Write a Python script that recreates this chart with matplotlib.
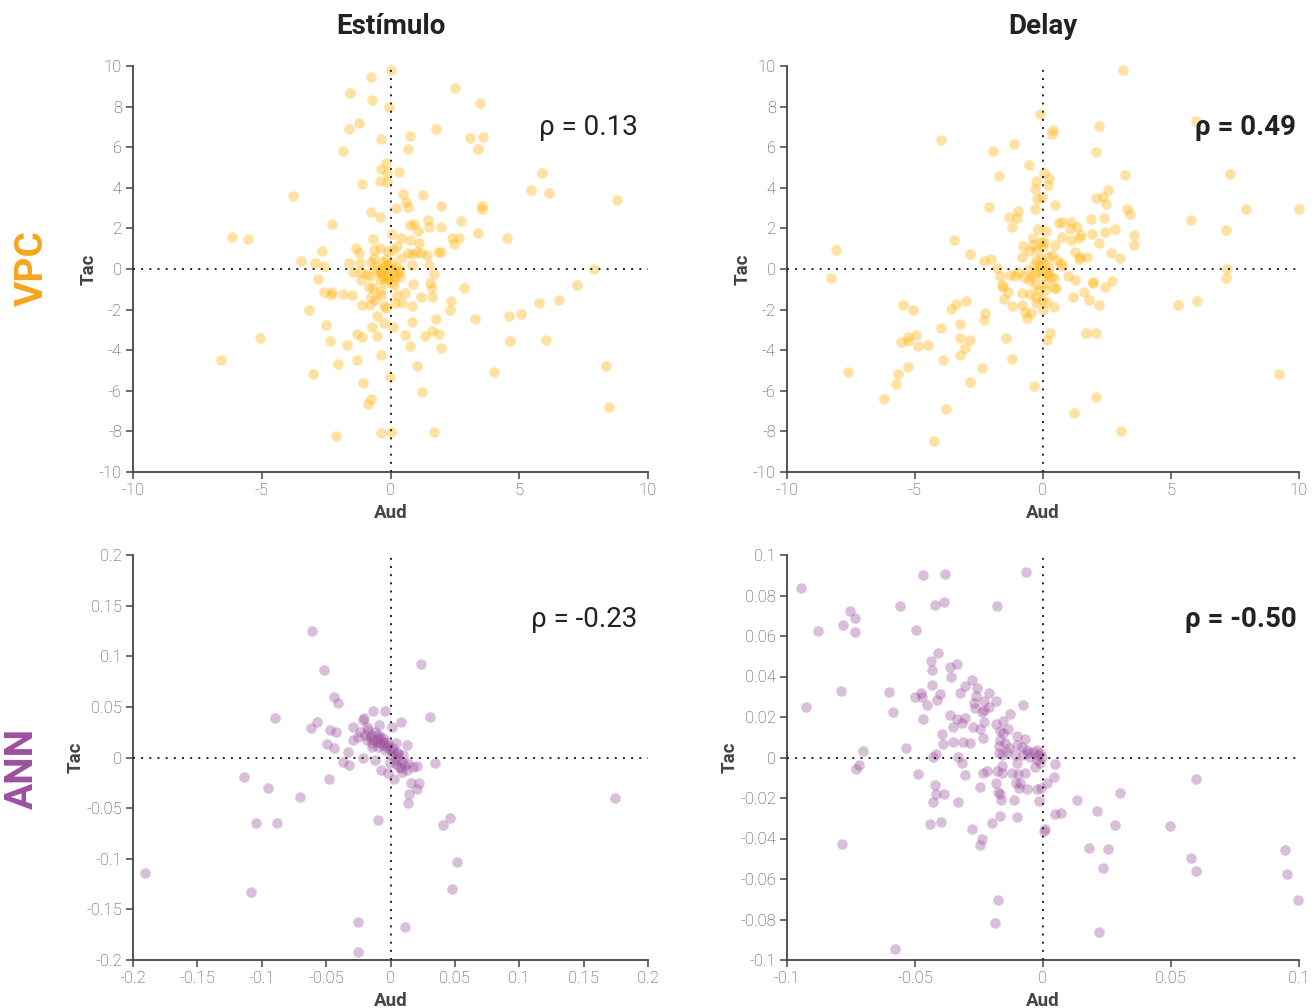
import matplotlib
matplotlib.use("Agg")
import matplotlib.pyplot as plt
from matplotlib.ticker import FuncFormatter
import numpy as np

plt.rcParams["font.family"] = ["Roboto", "DejaVu Sans"]
plt.rcParams["axes.unicode_minus"] = False

# (Aud, Tac) pairs per unit for each condition
vpc_stimulus = [
    (0.00, 9.82), (-0.75, 9.44), (2.52, 8.93), (-1.57, 8.69), (-0.72, 8.34), (3.48, 8.18),
    (-0.07, 7.98), (-1.23, 7.20), (-1.61, 6.92), (1.77, 6.89), (0.77, 6.56), (3.10, 6.44),
    (3.59, 6.51), (-0.38, 6.38), (0.69, 5.89), (3.41, 5.93), (-1.84, 5.80), (-0.16, 5.20),
    (-0.38, 4.95), (5.90, 4.75), (5.44, 3.90), (6.16, 3.75), (-3.77, 3.59), (8.79, 3.38),
    (-6.15, 1.56), (-5.52, 1.48), (7.90, -0.02), (7.23, -0.77), (4.52, 1.54),
    (-0.12, 4.71), (0.34, 4.79), (-0.41, 4.33), (-0.13, 4.30), (-1.11, 4.20), (0.49, 3.68),
    (1.26, 3.63), (0.60, 3.32), (0.69, 3.07), (0.21, 3.02), (1.98, 3.12), (3.55, 3.12),
    (3.57, 2.97), (-0.74, 2.82), (-2.28, 2.23), (-0.40, 2.56), (0.76, 2.18), (0.91, 2.23),
    (1.45, 2.40), (2.73, 2.38), (1.05, 1.87), (1.50, 2.05), (1.97, 2.09), (3.38, 1.79),
    (0.05, 1.71), (-0.67, 1.48), (0.40, 1.51), (0.74, 1.41), (1.11, 1.30), (2.37, 1.51),
    (2.67, 1.54), (2.47, 1.23), (-1.35, 1.03), (-1.24, 0.80), (-2.65, 0.87), (-0.63, 0.94),
    (-0.40, 1.05), (-0.09, 0.87), (0.10, 0.94), (0.27, 1.13), (0.82, 0.74), (0.69, 0.77),
    (1.01, 0.84), (1.20, 0.77), (1.40, 0.67), (1.83, 0.82), (1.95, 0.82), (-0.65, 0.53),
    (-0.74, 0.36), (-0.28, 0.36), (-0.18, 0.48), (0.40, 0.53), (0.84, 0.20), (1.48, 0.20),
    (-2.94, 0.28), (-2.59, 0.13), (-3.46, 0.41), (-1.62, 0.30), (-1.20, 0.30),
    (-0.28, 0.03), (-0.05, -0.02), (0.10, -0.13), (0.36, -0.05), (-0.09, -0.34), (-0.28, -0.41),
    (0.17, -0.38), (0.30, -0.21), (-0.54, -0.05), (-0.41, -0.21), (-0.80, -0.34), (-0.22, -0.71),
    (0.04, -0.62), (0.36, -0.41), (-0.41, -0.54), (-0.61, 0.16), (-0.15, 0.20), (0.05, 0.30),
    (-0.35, -0.10), (0.20, 0.10), (-0.10, -0.50), (0.15, -0.80),
    (-1.45, -0.13), (-1.13, -0.16), (-0.93, -0.26), (-2.82, -0.51), (-1.15, -0.54), (1.68, -0.26),
    (0.88, -0.76), (1.53, -0.71), (1.63, -0.94), (2.86, -0.95), (-2.59, -1.13), (-2.28, -1.12),
    (-2.30, -1.28), (-1.84, -1.23), (-1.49, -1.28), (-0.84, -0.90), (-0.67, -0.95), (-0.41, -1.07),
    (-0.76, -1.36), (-0.38, -1.28), (0.27, -1.28), (0.56, -1.17), (1.20, -1.36), (1.61, -1.36),
    (-1.11, -1.77), (-0.80, -1.77), (-0.61, -1.53), (-0.25, -1.82), (-0.18, -1.90), (0.17, -1.69),
    (0.45, -1.66), (0.82, -1.81), (2.34, -1.58), (2.30, -2.02), (-3.18, -2.04), (-0.54, -2.30),
    (-0.72, -2.84), (-0.25, -2.68), (0.10, -2.87), (0.57, -3.25), (0.82, -2.63), (1.61, -3.04),
    (1.89, -3.20), (1.77, -2.45), (1.33, -3.28), (3.28, -2.48), (-2.51, -2.76), (-2.36, -3.53),
    (-1.67, -3.74), (-1.29, -3.20), (-1.09, -3.37), (-0.52, -3.30), (0.75, -3.78), (1.98, -3.91),
    (-5.07, -3.39), (-6.60, -4.48), (5.78, -1.69), (6.55, -1.51), (5.05, -2.20), (4.59, -2.31),
    (4.66, -3.57), (6.03, -3.52), (-1.32, -4.48), (-0.36, -4.25), (-2.02, -4.67), (-3.01, -5.18),
    (1.04, -4.77), (4.01, -5.05), (8.37, -4.77), (-0.02, -5.30), (-1.07, -5.64), (1.22, -6.05),
    (-0.75, -6.39), (-0.86, -6.67), (8.49, -6.79), (-2.13, -8.23), (-0.36, -8.08), (0.00, -8.05),
    (1.68, -8.02),
]

vpc_delay = [
    (3.12, 9.80), (-0.13, 7.66), (5.96, 7.30), (2.18, 7.05), (0.39, 6.84), (0.34, 6.64),
    (-3.99, 6.36), (-1.14, 6.16), (-1.96, 5.82), (2.06, 5.75), (-0.55, 5.13), (7.31, 4.66),
    (7.92, 2.97), (10.00, 2.97), (5.80, 2.41), (7.13, 1.93), (-8.07, 0.92), (-8.30, -0.44),
    (7.18, -0.02), (7.13, -0.43),
    (-1.71, 4.56), (0.04, 4.71), (0.25, 4.47), (0.18, 4.15), (-0.26, 4.34), (-0.33, 3.92),
    (-0.22, 3.45), (-0.05, 3.55), (3.20, 4.63), (2.08, 3.51), (2.36, 3.53), (2.55, 3.88),
    (2.45, 3.19), (-2.11, 3.04), (-0.96, 2.84), (-1.32, 2.55), (-1.00, 2.50), (-1.20, 2.05),
    (-0.30, 2.94), (0.46, 3.14), (3.29, 2.96), (3.39, 2.71), (3.54, 1.66), (3.54, 1.18),
    (1.88, 2.46), (2.37, 2.53), (0.63, 2.28), (0.73, 2.30), (1.11, 2.33), (1.05, 1.99),
    (1.33, 2.09), (1.50, 1.66), (1.41, 1.51), (1.11, 1.43), (0.76, 1.56), (1.90, 1.72),
    (2.43, 1.82), (2.80, 1.95), (2.17, 1.30), (-0.20, 1.97), (0.10, 1.89), (-0.40, 1.54),
    (-0.78, 1.12), (-0.39, 1.17), (-0.08, 1.35), (0.04, 1.35), (0.48, 1.18), (-3.48, 1.44),
    (-2.84, 0.72), (-2.32, 0.39), (-2.03, 0.48), (1.26, 0.84), (1.71, 0.57), (1.45, 0.57),
    (1.42, 0.48), (2.67, 0.79), (3.02, 0.53), (-0.83, 0.57), (-0.55, 0.87), (-0.25, 0.94),
    (0.01, 1.07), (0.18, 0.57), (0.36, 0.69), (0.56, 0.44), (0.69, 0.28), (0.76, 0.15),
    (-0.26, 0.44), (-0.09, 0.48), (-0.35, 0.20), (-1.78, 0.07), (-1.69, -0.34), (-1.30, -0.30),
    (-1.09, -0.34), (-0.98, -0.13), (-0.59, -0.05), (-0.42, -0.38), (-0.55, -0.54), (-0.16, -0.05),
    (0.13, -0.13), (0.30, -0.38), (0.43, -0.46), (-0.29, -0.79), (0.10, -0.71), (-0.16, -1.03),
    (0.08, -1.03), (0.43, -0.95), (-0.74, -0.38), (0.05, 0.25), (-0.10, 0.15), (0.20, -0.25),
    (-0.30, -0.20), (0.25, 0.10), (-0.05, -0.40),
    (0.98, -0.34), (1.26, -0.54), (1.95, -0.62), (1.95, -0.71), (2.71, -0.59), (2.41, -0.90),
    (1.59, -1.13), (1.81, -1.53), (2.20, -1.77), (1.18, -1.38), (0.52, -0.95), (-1.59, -0.79),
    (-1.55, -0.90), (-1.38, -1.15), (-0.82, -1.17), (-1.52, -1.46), (-1.20, -1.82), (-0.82, -1.77),
    (-0.52, -1.23), (-0.29, -1.36), (-0.26, -1.69), (-0.03, -1.53), (0.17, -1.61), (0.44, -1.89),
    (-0.72, -2.10), (-0.46, -2.18), (-0.64, -2.40), (-3.00, -1.59), (-3.41, -1.72), (-3.58, -1.99),
    (-2.27, -2.18), (-2.29, -2.51), (-3.97, -2.91), (-3.24, -2.71), (-3.26, -3.38), (-2.84, -3.50),
    (-3.06, -3.88), (-1.46, -3.42), (0.00, -2.00), (0.26, -3.15), (0.14, -3.48), (1.69, -3.14),
    (2.06, -3.15),
    (-5.45, -1.79), (-5.08, -2.00), (-4.97, -3.26), (-5.28, -3.33), (-5.28, -3.54), (-5.54, -3.61),
    (-4.90, -3.79), (-4.51, -3.74), (-3.23, -4.23), (-3.90, -4.49), (-5.29, -4.82), (-5.65, -5.16),
    (-5.76, -5.66), (-7.63, -5.08), (-6.22, -6.39), (-2.40, -4.87), (-2.84, -5.59), (-3.80, -6.90),
    (-4.27, -8.49), (-1.20, -4.44), (-0.36, -5.75), (2.08, -6.31), (1.22, -7.11), (3.05, -7.97),
    (5.29, -1.77), (6.00, -1.57), (9.22, -5.18),
]

ann_stimulus = [
    (-0.0611, 0.125), (-0.052, 0.0864), (0.0235, 0.0926), (-0.0899, 0.0386), (-0.0621, 0.0288),
    (-0.0569, 0.035), (-0.114, -0.0188), (-0.0951, -0.0304), (-0.0705, -0.0386), (-0.1043, -0.0647),
    (-0.0882, -0.065), (-0.0095, -0.0621), (0.041, -0.0667), (0.0459, -0.0601), (0.0518, -0.103),
    (0.0475, -0.1297), (-0.1908, -0.1137), (-0.1085, -0.133), (-0.0256, -0.1621), (0.0115, -0.1676),
    (-0.0249, -0.1922), (0.1744, -0.0402),
    (-0.0439, 0.0594), (-0.0405, 0.0542), (-0.0133, 0.0463), (-0.0043, 0.0459), (-0.0203, 0.0387),
    (-0.0211, 0.037), (0.0084, 0.0354), (-0.0092, 0.0318), (0.0307, 0.0403), (0.0014, 0.0298),
    (-0.0289, 0.0305), (-0.047, 0.0272), (-0.0423, 0.0252), (-0.0491, 0.0133), (-0.0439, 0.009),
    (-0.0237, 0.0255), (-0.0198, 0.0222), (-0.0159, 0.0206), (-0.0133, 0.0173), (-0.0107, 0.0156),
    (-0.0082, 0.014), (-0.0056, 0.0123), (-0.0029, 0.0107), (-0.0004, 0.008), (0.0022, 0.0058),
    (0.0048, 0.0041), (-0.0172, 0.0272), (-0.012, 0.0255), (-0.0095, 0.0222), (-0.0056, 0.019),
    (-0.0029, 0.0156), (-0.0185, 0.0173), (-0.0146, 0.014), (-0.0095, 0.0107), (-0.0043, 0.0074),
    (0.0009, 0.0025), (0.0061, -0.0008), (0.0087, -0.0041), (0.0113, -0.0074), (-0.0289, 0.0173),
    (-0.025, 0.0206), (-0.0328, 0.0058), (-0.0211, -0.0008), (-0.012, -0.0025), (-0.0366, -0.0041),
    (-0.032, -0.0074), (-0.0076, -0.0123), (-0.0017, -0.0156), (-0.0004, -0.0058), (0.0035, -0.0025),
    (0.0069, -0.009), (0.0087, -0.014), (0.0126, -0.0123), (0.0131, 0.0123), (0.0043, 0.014),
    (0.0139, -0.0058), (0.0172, -0.009), (0.0208, -0.0084), (0.0348, -0.0051), (0.0027, -0.0216),
    (-0.0478, -0.0216), (0.0157, -0.0255), (0.0203, -0.0314), (0.0225, -0.0249), (0.0146, -0.036),
    (0.0133, -0.0446), (-0.015, 0.022), (-0.010, 0.018), (-0.006, 0.015), (-0.002, 0.012),
    (0.002, 0.009), (0.006, 0.004), (-0.018, 0.030), (-0.008, 0.020), (0.004, -0.006),
    (0.008, -0.010), (0.010, 0.002), (-0.014, 0.010),
]

ann_delay = [
    (-0.0946, 0.0838), (-0.0924, 0.0249), (-0.088, 0.0623), (-0.0752, 0.0725), (-0.0782, 0.0654),
    (-0.0734, 0.069), (-0.0735, 0.062), (-0.0791, 0.0328), (-0.0703, 0.0034), (-0.0732, -0.0056),
    (-0.0717, -0.0038), (-0.0468, 0.09), (-0.0383, 0.0905), (-0.0558, 0.0749), (-0.0422, 0.0754),
    (-0.0386, 0.077), (-0.0179, 0.0748), (-0.0068, 0.0915), (-0.0498, 0.0628), (-0.0785, -0.0425),
    (-0.0577, -0.0948), (-0.044, -0.0326), (-0.0399, -0.032), (-0.0279, -0.0351), (-0.0238, -0.0403),
    (-0.0246, -0.043), (-0.02, -0.0323), (-0.0174, -0.0703), (-0.0189, -0.0816), (0.0003, -0.0364),
    (0.0008, -0.0351), (0.0047, -0.0277), (0.007, -0.0272), (0.0134, -0.0211), (0.0212, -0.0262),
    (0.03, -0.0174), (0.028, -0.0331), (0.0181, -0.0446), (0.0252, -0.0452), (0.0236, -0.0544),
    (0.022, -0.0861), (0.0497, -0.0336), (0.0598, -0.0108), (0.058, -0.0497), (0.0596, -0.0559),
    (0.0946, -0.0457), (0.0953, -0.0575), (0.0998, -0.0702),
    (-0.041, 0.0518), (-0.0436, 0.0477), (-0.0434, 0.0432), (-0.0363, 0.0449), (-0.0337, 0.0462),
    (-0.0361, 0.0396), (-0.0432, 0.0358), (-0.0276, 0.0383), (-0.0305, 0.0355), (-0.0257, 0.0342),
    (-0.026, 0.0304), (-0.021, 0.0317), (-0.0182, 0.0281), (-0.0232, 0.0281), (-0.0211, 0.0251),
    (-0.0324, 0.0317), (-0.0603, 0.0323), (-0.0499, 0.03), (-0.0477, 0.032), (-0.0471, 0.03),
    (-0.0402, 0.0313), (-0.0415, 0.0284), (-0.0452, 0.0261), (-0.0585, 0.0225), (-0.0467, 0.0188),
    (-0.027, 0.0267), (-0.0266, 0.0243), (-0.024, 0.0226), (-0.023, 0.0234), (-0.0079, 0.0259),
    (-0.0363, 0.021), (-0.0337, 0.0188), (-0.0318, 0.0169), (-0.035, 0.0149), (-0.0305, 0.0197),
    (-0.023, 0.0177), (-0.0184, 0.0165), (-0.0155, 0.0182), (-0.0128, 0.0215), (-0.0272, 0.0149),
    (-0.0246, 0.0139), (-0.0233, 0.0095), (-0.0396, 0.0116), (-0.0389, 0.0067), (-0.035, 0.0078),
    (-0.0311, 0.0078), (-0.0285, 0.007), (-0.0418, 0.0017), (-0.0431, 0.0001), (-0.0331, 0.0001),
    (-0.0315, -0.0026), (-0.049, -0.0081), (-0.0534, 0.0045),
    (-0.0168, 0.0132), (-0.0155, 0.0123), (-0.0135, 0.0139), (-0.0168, 0.0086), (-0.0172, 0.0057),
    (-0.0148, 0.007), (-0.0132, 0.0045), (-0.0161, 0.0012), (-0.0141, 0.0029), (-0.0171, 0.002),
    (-0.0103, 0.0106), (-0.0069, 0.009), (-0.0103, 0.0062), (-0.0064, 0.0037), (-0.0038, 0.0029),
    (-0.0018, 0.0012), (-0.0005, 0.0004), (-0.0077, 0.0012), (-0.0051, 0.0001), (-0.0025, -0.0012),
    (-0.0012, -0.0026), (-0.0031, -0.0046), (-0.0103, -0.0026), (-0.011, 0.0012), (-0.0081, 0.005),
    (-0.0057, 0.0021), (-0.0025, 0.0037), (-0.0012, 0.0021), (-0.0159, -0.0042), (-0.0161, -0.0078),
    (-0.0122, -0.0078), (-0.0096, -0.0081), (-0.007, -0.0078), (-0.0107, -0.0128), (-0.009, -0.0128),
    (-0.0181, -0.0067), (-0.0217, -0.0067), (-0.0233, -0.0075), (-0.0184, -0.0124), (-0.0247, -0.0144),
    (-0.0305, -0.0086), (-0.0421, -0.0134), (-0.0418, -0.018), (-0.0387, -0.018), (-0.0431, -0.0221),
    (-0.0331, -0.0221), (-0.0174, -0.0169), (-0.0168, -0.018), (-0.0165, -0.021), (-0.0115, -0.021),
    (-0.0092, -0.0152), (-0.0061, -0.0157), (-0.0025, -0.0157), (-0.0009, -0.0152), (-0.0016, -0.0215),
    (0.0016, -0.0128), (0.0043, -0.0095), (0.0046, -0.0032), (-0.0168, -0.0289), (-0.0101, -0.0292),
]

col_titles = ["Estímulo", "Delay"]
row_labels = ["VPC", "ANN"]
rho_values = [[0.13, 0.49], [-0.23, -0.50]]
x_label, y_label = "Aud", "Tac"

panels = [[vpc_stimulus, vpc_delay], [ann_stimulus, ann_delay]]
row_colors = ["#FFB000", "#9B4F9B"]
row_label_colors = ["#F7A41D", "#9B4FA0"]
limits = [[(10, 10), (10, 10)], [(0.2, 0.2), (0.1, 0.1)]]
xticks = [[np.arange(-10, 11, 5), np.arange(-10, 11, 5)],
          [np.linspace(-0.2, 0.2, 9), np.linspace(-0.1, 0.1, 5)]]
yticks = [[np.arange(-10, 11, 2), np.arange(-10, 11, 2)],
          [np.linspace(-0.2, 0.2, 9), np.linspace(-0.1, 0.1, 11)]]

W, H = 1315, 1008
fig = plt.figure(figsize=(W / 100, H / 100), dpi=100)

# axes boxes in pixels: (left, top, right, bottom)
boxes = [[(133, 66, 648, 472), (787, 66, 1299, 472)],
         [(133, 555, 648, 960), (787, 555, 1299, 960)]]
rho_y = [0.848, 0.84]


def fmt(v, _pos):
    v = round(v, 6)
    if v == 0:
        return "0"
    return f"{v:g}"


for r in range(2):
    for c in range(2):
        l, t, rr, b = boxes[r][c]
        ax = fig.add_axes([l / W, 1 - b / H, (rr - l) / W, (b - t) / H])
        pts = np.array(panels[r][c])
        ax.scatter(pts[:, 0], pts[:, 1], s=58, color=row_colors[r], alpha=0.36,
                   linewidths=0, clip_on=False, zorder=3)
        ax.axhline(0, color="#222222", lw=1.4, ls=(0, (1, 3.2)), zorder=4)
        ax.axvline(0, color="#222222", lw=1.4, ls=(0, (1, 3.2)), zorder=4)
        xl, yl = limits[r][c]
        ax.set_xlim(-xl, xl)
        ax.set_ylim(-yl, yl)
        ax.set_xticks(xticks[r][c])
        ax.set_yticks(yticks[r][c])
        ax.xaxis.set_major_formatter(FuncFormatter(fmt))
        ax.yaxis.set_major_formatter(FuncFormatter(fmt))
        for side in ["top", "right"]:
            ax.spines[side].set_visible(False)
        for side in ["left", "bottom"]:
            ax.spines[side].set_color("#444444")
            ax.spines[side].set_linewidth(1.3)
        ax.tick_params(direction="out", length=5, width=1.1, color="#444444",
                       labelsize=12, labelcolor="#444444", pad=3)
        for lbl in ax.get_xticklabels() + ax.get_yticklabels():
            lbl.set_fontweight("light")
        ax.set_xlabel(x_label, fontsize=13.5, fontweight="bold", color="#444444", labelpad=4)
        ax.set_ylabel(y_label, fontsize=13.5, fontweight="bold", color="#444444", labelpad=1)
        ax.text(0.98 if c == 0 else 0.995, rho_y[r], f"ρ = {rho_values[r][c]:.2f}",
                transform=ax.transAxes, ha="right", va="center", fontsize=20,
                color="#222222", fontweight="bold" if c == 1 else "normal")

for c, title in enumerate(col_titles):
    l, t, rr, b = boxes[0][c]
    fig.text((l + rr) / 2 / W, 1 - 27 / H, title, ha="center", va="center",
             fontsize=20, fontweight="bold", color="#222222")

row_label_x = [32, 22]
row_label_y = [268, 768]
for r, lab in enumerate(row_labels):
    fig.text(row_label_x[r] / W, 1 - row_label_y[r] / H, lab, rotation=90, ha="center",
             va="center", fontsize=28, fontweight="bold", color=row_label_colors[r])

fig.savefig("out.png", dpi=100, facecolor="white")
